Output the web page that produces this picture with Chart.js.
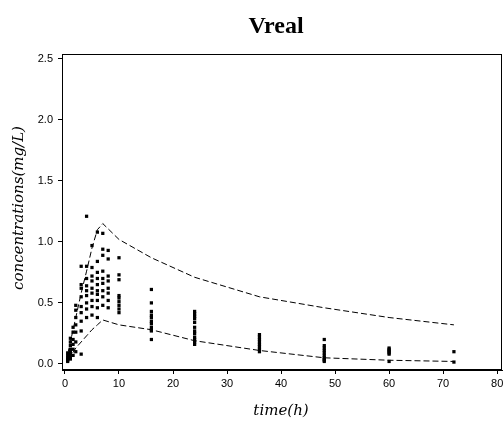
<!DOCTYPE html>
<html>
<head>
<meta charset="utf-8">
<script src="https://cdn.jsdelivr.net/npm/chart.js@4.4.1/dist/chart.umd.min.js"></script>
<style>
  html, body { margin: 0; padding: 0; background: #fff; }
  #wrap { width: 503px; height: 424px; }
</style>
</head>
<body>
<div id="wrap"><canvas id="c" width="503" height="424"></canvas></div>
<script>
// observed concentrations, grouped by sampling time (h)
const sampleTimes = [0.5, 1, 1.5, 2, 3, 4, 5, 6, 7, 8, 10, 16, 24, 36, 48, 60, 72];
const obsByTime = [
    [0.02, 0.03, 0.04, 0.05, 0.07, 0.09],
    [0.04, 0.06, 0.08, 0.10, 0.12, 0.15, 0.18, 0.21],
    [0.07, 0.12, 0.16, 0.20, 0.26, 0.30],
    [0.10, 0.18, 0.26, 0.32, 0.38, 0.44, 0.48],
    [0.08, 0.27, 0.35, 0.42, 0.47, 0.55, 0.62, 0.65, 0.80],
    [0.38, 0.45, 0.50, 0.56, 0.60, 0.64, 0.70, 0.80, 1.21],
    [0.40, 0.47, 0.52, 0.58, 0.62, 0.68, 0.72, 0.79, 0.97],
    [0.38, 0.46, 0.52, 0.57, 0.60, 0.65, 0.70, 0.75, 0.84, 1.08],
    [0.48, 0.55, 0.60, 0.66, 0.70, 0.76, 0.89, 0.94, 1.07],
    [0.46, 0.52, 0.58, 0.62, 0.68, 0.72, 0.86, 0.93],
    [0.42, 0.45, 0.48, 0.51, 0.54, 0.56, 0.69, 0.73, 0.87],
    [0.20, 0.27, 0.28, 0.30, 0.33, 0.35, 0.38, 0.40, 0.43, 0.50, 0.61],
    [0.16, 0.18, 0.20, 0.22, 0.25, 0.27, 0.30, 0.34, 0.37, 0.39, 0.41, 0.43],
    [0.10, 0.12, 0.14, 0.16, 0.18, 0.20, 0.22, 0.24],
    [0.02, 0.03, 0.04, 0.05, 0.07, 0.09, 0.11, 0.13, 0.15, 0.20],
    [0.02, 0.08, 0.09, 0.10, 0.11, 0.12, 0.13],
    [0.015, 0.10]
];

// prediction band (dashed lines)
const bandTimes = [0.5, 1, 2, 3, 4, 5, 6, 7, 10, 16, 24, 36, 48, 60, 72];
const upperBand = [0.08, 0.18, 0.38, 0.58, 0.76, 0.95, 1.10, 1.15, 1.02, 0.87, 0.71, 0.55, 0.46, 0.38, 0.32];
const lowerBand = [0.03, 0.06, 0.13, 0.18, 0.23, 0.28, 0.32, 0.36, 0.32, 0.28, 0.19, 0.11, 0.05, 0.03, 0.02];

const xTicks = [0, 10, 20, 30, 40, 50, 60, 70, 80];
const yTicks = [0, 0.5, 1.0, 1.5, 2.0, 2.5];

const obsPoints = [];
sampleTimes.forEach((t, i) => {
    obsByTime[i].forEach(v => obsPoints.push({ x: t, y: v }));
});
const toXY = (ys) => bandTimes.map((t, i) => ({ x: t, y: ys[i] }));

// Chart.js reserva unos px a la derecha (etiqueta "80" / puntos); el marco original llega al borde
const stretchPlugin = {
    id: 'stretch',
    afterLayout(chart) {
        const right = chart.width - 1;
        const a = chart.chartArea;
        a.right = right;
        a.width = right - a.left;
        const x = chart.scales.x;
        x.right = right;
        x.width = right - x.left;
        x.configure();
    }
};

// marco completo + títulos
const framePlugin = {
    id: 'frame',
    afterDraw(chart) {
        const { ctx, chartArea: a } = chart;
        ctx.save();
        ctx.strokeStyle = '#000';
        ctx.lineWidth = 1;
        ctx.strokeRect(a.left + 0.5, a.top + 0.5, a.right - a.left - 1, a.bottom - a.top - 1);

        ctx.fillStyle = '#000';
        ctx.textAlign = 'center';
        ctx.textBaseline = 'middle';
        ctx.font = 'bold 24px "Liberation Serif"';
        ctx.fillText('Vreal', 276, 27);

        ctx.font = 'italic 15px "DejaVu Serif"';
        ctx.fillText('time(h)', 281, 411);

        ctx.translate(19, 208);
        ctx.rotate(-Math.PI / 2);
        ctx.fillText('concentrations(mg/L)', 0, 0);
        ctx.restore();
    }
};

const axisCommon = {
    type: 'linear',
    border: { display: true, color: '#000', width: 1 },
    grid: { drawOnChartArea: false, drawTicks: true, tickLength: 4, tickColor: '#000', lineWidth: 1 },
};

new Chart(document.getElementById('c'), {
    type: 'scatter',
    plugins: [stretchPlugin, framePlugin],
    data: {
        datasets: [
            {
                label: 'obs',
                data: obsPoints,
                pointStyle: 'rect',
                pointRadius: 2.3,
                pointBorderWidth: 0,
                backgroundColor: '#000',
                borderColor: '#000',
                order: 1
            },
            {
                label: 'upper',
                data: toXY(upperBand),
                showLine: true,
                borderColor: '#000',
                borderWidth: 1,
                borderDash: [6, 3],
                pointRadius: 0,
                order: 2
            },
            {
                label: 'lower',
                data: toXY(lowerBand),
                showLine: true,
                borderColor: '#000',
                borderWidth: 1,
                borderDash: [6, 3],
                pointRadius: 0,
                order: 2
            }
        ]
    },
    options: {
        responsive: false,
        animation: false,
        layout: { padding: { top: 54, right: 1, left: 0, bottom: 0 } },
        plugins: { legend: { display: false }, tooltip: { enabled: false } },
        scales: {
            x: {
                ...axisCommon,
                min: -0.55,
                max: 80.9,
                afterBuildTicks: (s) => { s.ticks = xTicks.map(v => ({ value: v })); },
                afterFit: (s) => { s.height = 54; },
                ticks: {
                    color: '#000',
                    padding: 3,
                    maxRotation: 0,
                    font: { family: '"Liberation Sans"', size: 11 },
                    callback: (v) => String(v)
                }
            },
            y: {
                ...axisCommon,
                min: -0.05,
                max: 2.54,
                afterBuildTicks: (s) => { s.ticks = yTicks.map(v => ({ value: v })); },
                afterFit: (s) => { s.width = 62; },
                ticks: {
                    color: '#000',
                    padding: 5,
                    font: { family: '"Liberation Sans"', size: 11 },
                    callback: (v) => v.toFixed(1)
                }
            }
        }
    }
});
</script>
</body>
</html>
